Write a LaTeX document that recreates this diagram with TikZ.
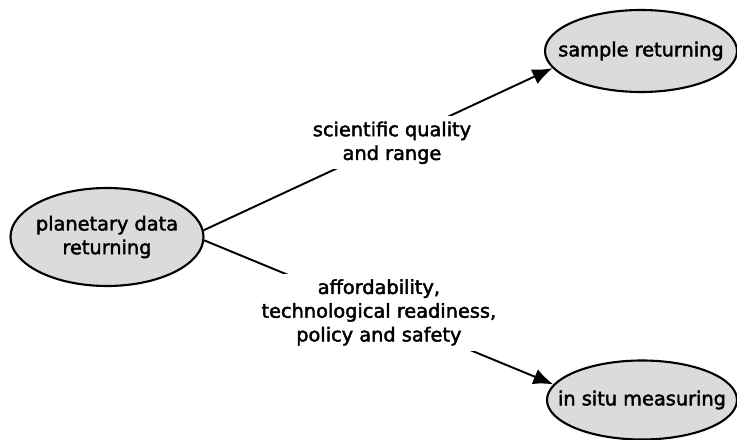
\documentclass[tikz,border=0pt]{standalone}
\usepackage{fontspec}
\setmainfont{DejaVu Sans}
\newfontfamily\diagfont{DejaVu Sans}[FakeBold=2.2]
\usetikzlibrary{shapes.geometric}
\usetikzlibrary{arrows.meta}

\begin{document}
\begin{tikzpicture}[font=\diagfont\fontsize{11}{13.5}\selectfont]
\useasboundingbox (0,0) rectangle (14.74,8.8);
\begin{scope}[every node/.style={ellipse,draw,line width=1.2pt,fill=gray!28,inner ysep=0pt,inner xsep=-0.35cm,align=center}]
    \node[minimum width=3.86cm,minimum height=1.96cm] (pdr) at (2.14, 4.06) {planetary data\\returning};
    \node[minimum width=3.84cm,minimum height=1.64cm] (sr) at (12.82, 7.78) {sample returning};
    \node[minimum width=3.80cm,minimum height=1.58cm] (ism) at (12.84, 0.80) {in situ measuring};
\end{scope}
\begin{scope}[>={Latex[length=4mm,width=3.2mm]},
              every node/.style={fill=white,align=center,inner sep=3pt},
              link/.style={draw=black,line width=1.1pt}]
    \path [->] (pdr.4) edge [link] node [pos=0.54] {scientific quality\\and range} (sr.191);
    \path [->] (pdr.-2) edge [link] node [pos=0.50] {affordability,\\technological readiness,\\policy and safety} (ism.170);
\end{scope}
\end{tikzpicture}
\end{document}
